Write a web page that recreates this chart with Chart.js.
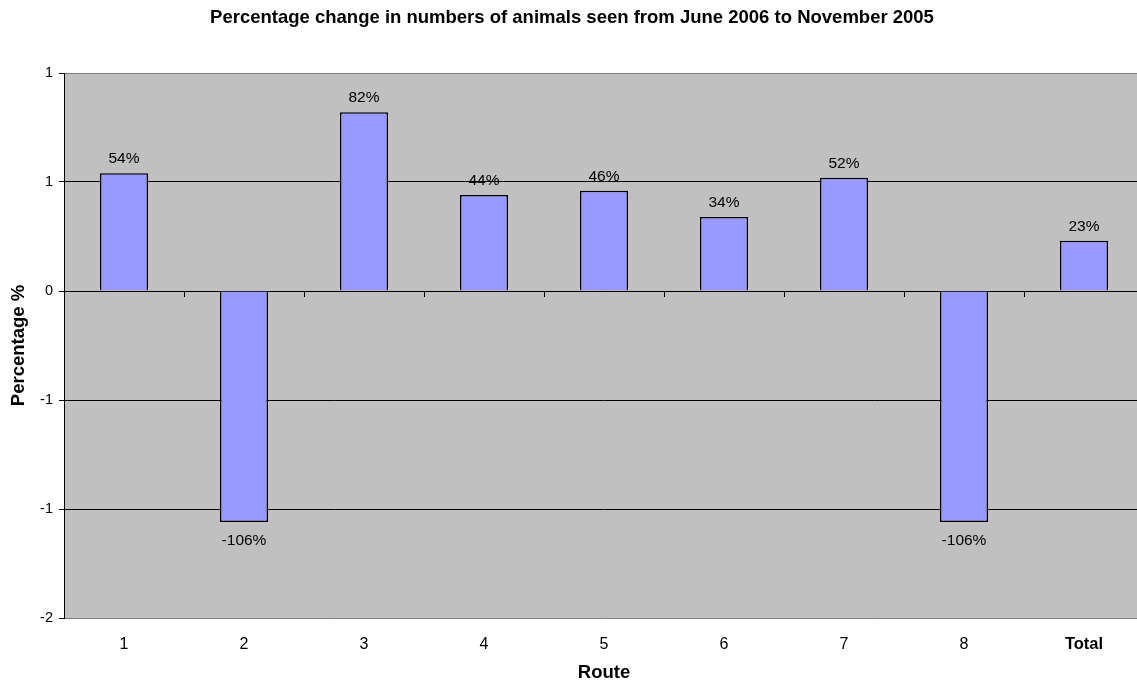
<!DOCTYPE html>
<html>
<head>
<meta charset="utf-8">
<script src="https://cdn.jsdelivr.net/npm/chart.js@4"></script>
<style>
  html, body { margin: 0; padding: 0; background: #fff; overflow: hidden; }
  #wrap { width: 1144px; height: 682px; }
</style>
</head>
<body>
<div id="wrap"><canvas id="myChart" width="1144" height="682"></canvas></div>
<script>
// 데이터
const routes = ['1', '2', '3', '4', '5', '6', '7', '8', 'Total'];
const changeValues = [0.54, -1.06, 0.82, 0.44, 0.46, 0.34, 0.52, -1.06, 0.23];
const changeLabels = ['54%', '-106%', '82%', '44%', '46%', '34%', '52%', '-106%', '23%'];
const yTickValues = [1, 0.5, 0, -0.5, -1, -1.5];
const yTickLabels = ['1', '1', '0', '-1', '-1', '-2'];

const FONT = "'Liberation Sans', Arial, sans-serif";

// 막대 위/아래 값 표시
const valueLabels = {
    id: 'valueLabels',
    afterDatasetsDraw(chart) {
        const ctx = chart.ctx;
        const meta = chart.getDatasetMeta(0);
        ctx.save();
        ctx.font = '15.5px ' + FONT;
        ctx.fillStyle = '#000';
        ctx.textAlign = 'center';
        ctx.textBaseline = 'alphabetic';
        meta.data.forEach((bar, i) => {
            const v = changeValues[i];
            if (v >= 0) {
                ctx.fillText(changeLabels[i], bar.x, bar.y - 10);
            } else {
                ctx.fillText(changeLabels[i], bar.x, bar.y + 23);
            }
        });
        ctx.restore();
    }
};

// 플롯 영역 배경
const plotBg = {
    id: 'plotBg',
    beforeDraw(chart) {
        const a = chart.chartArea;
        const ctx = chart.ctx;
        ctx.save();
        ctx.fillStyle = '#C0C0C0';
        ctx.fillRect(a.left, a.top, a.right - a.left, a.bottom - a.top);
        ctx.restore();
    }
};

const canvas = document.querySelector('#myChart');

new Chart(canvas, {
    type: 'bar',
    data: {
        labels: routes,
        datasets: [{
            data: changeValues,
            backgroundColor: '#9999FF',
            borderColor: '#000',
            borderWidth: 1.5,
            barPercentage: 0.4,
            categoryPercentage: 1,
            xAxisID: 'x'
        }]
    },
    options: {
        responsive: false,
        animation: false,
        layout: { padding: 0 },
        scales: {
            x: {
                position: 'bottom',
                grid: { display: false },
                border: { display: false },
                ticks: {
                    color: '#000',
                    padding: 9,
                    font: (c) => (c.tick && c.tick.label === 'Total')
                        ? { family: FONT, size: 16.5, weight: 'bold' }
                        : { family: FONT, size: 16, weight: 'normal' }
                },
                title: {
                    display: true,
                    text: 'Route',
                    color: '#000',
                    font: { family: FONT, size: 18.5, weight: 'bold', lineHeight: 1 },
                    padding: { top: 0, bottom: 0 }
                },
                afterFit(scale) { scale.height = 64; }
            },
            xZero: {
                type: 'category',
                labels: routes,
                position: { y: 0 },
                offset: true,
                grid: {
                    drawOnChartArea: false,
                    offset: true,
                    tickLength: 5,
                    color: '#000'
                },
                border: { display: true, color: '#000', width: 1 },
                ticks: { display: false }
            },
            y: {
                min: -1.5,
                max: 1,
                afterBuildTicks(scale) {
                    scale.ticks = yTickValues.map(v => ({ value: v }));
                },
                ticks: {
                    color: '#000',
                    padding: 6,
                    font: { family: FONT, size: 14.5 },
                    callback: (v) => yTickLabels[yTickValues.indexOf(v)]
                },
                grid: {
                    color: (c) => (c.tick && (c.tick.value === 1 || c.tick.value === -1.5)) ? '#808080' : '#000',
                    tickColor: '#000',
                    tickLength: 5,
                    lineWidth: 1
                },
                border: { display: true, color: '#000', width: 1 },
                title: {
                    display: true,
                    text: 'Percentage %',
                    color: '#000',
                    font: { family: FONT, size: 18.5, weight: 'bold', lineHeight: 1 },
                    padding: { top: 10, bottom: 0 }
                },
                afterFit(scale) { scale.width = 64; }
            }
        },
        plugins: {
            legend: { display: false },
            tooltip: { enabled: false },
            title: {
                display: true,
                text: 'Percentage change in numbers of animals seen from June 2006 to November 2005',
                color: '#000',
                font: { family: FONT, size: 18.5, weight: 'bold', lineHeight: 1.2 },
                padding: { top: 7, bottom: 43.8 }
            }
        }
    },
    plugins: [plotBg, valueLabels]
});
</script>
</body>
</html>
